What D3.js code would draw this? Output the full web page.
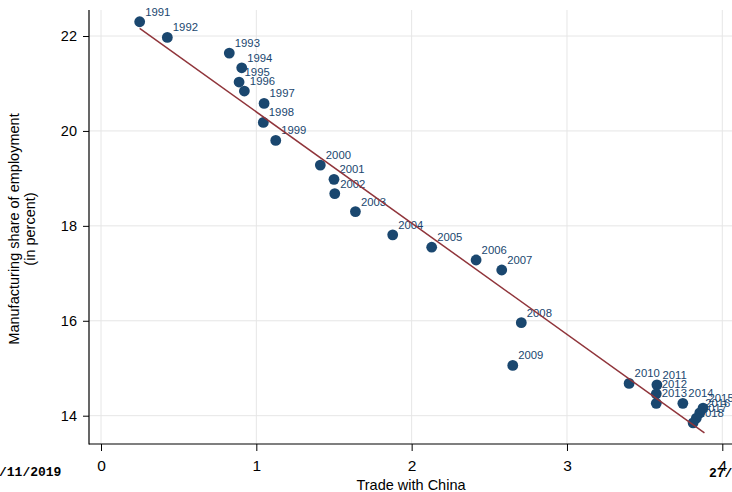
<!DOCTYPE html>
<html>
<head>
<meta charset="utf-8">
<script src="https://cdn.jsdelivr.net/npm/d3@7"></script>
<style>
  html, body { margin: 0; padding: 0; background: #fff; }
  svg { display: block; }
  text { font-family: "Liberation Sans", Arial, Helvetica, sans-serif; }
</style>
</head>
<body>
<svg id="chart" width="732" height="492"></svg>
<script>
// Years and values for the scatter
const years = [1991, 1992, 1993, 1994, 1995, 1996, 1997, 1998, 1999, 2000,
               2001, 2002, 2003, 2004, 2005, 2006, 2007, 2008, 2009, 2010,
               2011, 2012, 2013, 2014, 2015, 2016, 2017, 2018];
const tradeWithChina = [0.249, 0.427, 0.826, 0.906, 0.889, 0.923, 1.050, 1.045, 1.125, 1.412,
                        1.500, 1.505, 1.638, 1.878, 2.129, 2.415, 2.580, 2.706, 2.651, 3.400,
                        3.579, 3.575, 3.575, 3.746, 3.876, 3.855, 3.833, 3.812];
const mfgShare = [22.30, 21.97, 21.64, 21.33, 21.03, 20.84, 20.58, 20.18, 19.80, 19.28,
                  18.98, 18.68, 18.30, 17.81, 17.55, 17.28, 17.07, 15.96, 15.06, 14.68,
                  14.65, 14.46, 14.26, 14.26, 14.16, 14.06, 13.95, 13.85];

// Linear fit endpoints
const fitX = [0.249, 3.885];
const fitY = [22.16, 13.64];

// Axis ticks
const xTicks = [0, 1, 2, 3, 4];
const yTicks = [14, 16, 18, 20, 22];

const svg = d3.select("#chart");
const W = 732, H = 492;
const plot = { left: 89, right: 745, top: 10, bottom: 444 };

const x = d3.scaleLinear().domain([0, 4]).range([101, 722.3]);
const y = d3.scaleLinear().domain([14, 22]).range([415.7, 36]);

const navy = "#1a476f";
const maroon = "#90353b";
const grid = "#e6e6e6";

svg.append("rect").attr("width", W).attr("height", H).attr("fill", "#fff");

// grid lines
const g = svg.append("g");
g.selectAll("line.hg").data(yTicks).join("line")
  .attr("x1", plot.left).attr("x2", plot.right)
  .attr("y1", d => y(d)).attr("y2", d => y(d))
  .attr("stroke", grid).attr("stroke-width", 1);
g.selectAll("line.vg").data(xTicks).join("line")
  .attr("x1", d => x(d)).attr("x2", d => x(d))
  .attr("y1", plot.top).attr("y2", plot.bottom)
  .attr("stroke", grid).attr("stroke-width", 1);

// axes
const xAxis = svg.append("g").attr("transform", `translate(0,${plot.bottom})`)
  .call(d3.axisBottom(x).tickValues(xTicks).tickFormat(d3.format("d"))
    .tickSize(7).tickPadding(9).tickSizeOuter(0));
const yAxis = svg.append("g").attr("transform", `translate(${plot.left},0)`)
  .call(d3.axisLeft(y).tickValues(yTicks).tickFormat(d3.format("d"))
    .tickSize(6).tickPadding(6).tickSizeOuter(0));
[xAxis, yAxis].forEach(a => {
  a.select(".domain").remove();
  a.selectAll(".tick line").attr("stroke", "#000");
  a.selectAll(".tick text").attr("fill", "#000")
    .style("font-family", '"Liberation Sans", Arial, Helvetica, sans-serif');
});
xAxis.selectAll(".tick text").style("font-size", "15.5px");
yAxis.selectAll(".tick text").style("font-size", "14.5px");

svg.append("line").attr("x1", plot.left).attr("x2", plot.left)
  .attr("y1", plot.top).attr("y2", plot.bottom + 0.5)
  .attr("stroke", "#000").attr("stroke-width", 1.2);
svg.append("line").attr("x1", plot.left).attr("x2", plot.right)
  .attr("y1", plot.bottom).attr("y2", plot.bottom)
  .attr("stroke", "#000").attr("stroke-width", 1.2);

// axis titles
svg.append("text").attr("x", 411).attr("y", 490)
  .attr("text-anchor", "middle").attr("font-size", "14.5px").attr("fill", "#000")
  .text("Trade with China");
const yt = svg.append("text")
  .attr("transform", "translate(0,229) rotate(-90)")
  .attr("text-anchor", "middle").attr("font-size", "14.5px").attr("fill", "#000");
yt.append("tspan").attr("x", 0).attr("y", 19).text("Manufacturing share of employment");
yt.append("tspan").attr("x", 0).attr("y", 35).text("(in percent)");

// data
const pts = years.map((yr, i) => ({ yr, tx: tradeWithChina[i], ms: mfgShare[i] }));

svg.append("g").selectAll("text").data(pts).join("text")
  .attr("x", d => x(d.tx) + 5.5)
  .attr("y", d => y(d.ms) - 6)
  .attr("font-size", "11.3px").attr("fill", navy)
  .text(d => d.yr);

svg.append("g").selectAll("circle").data(pts).join("circle")
  .attr("cx", d => x(d.tx)).attr("cy", d => y(d.ms))
  .attr("r", 5.4).attr("fill", navy);

// fitted line
svg.append("path")
  .datum(fitX.map((v, i) => [v, fitY[i]]))
  .attr("d", d3.line().x(d => x(d[0])).y(d => y(d[1])))
  .attr("fill", "none").attr("stroke", maroon).attr("stroke-width", 1.5);

// date stamps at the page edges
svg.append("text").attr("x", -1).attr("y", 476)
  .style("font-family", '"Liberation Mono", "DejaVu Sans Mono", monospace')
  .attr("font-weight", "bold").attr("font-size", "13px").attr("fill", "#000")
  .text("/11/2019");
svg.append("text").attr("x", 709).attr("y", 477)
  .style("font-family", '"Liberation Mono", "DejaVu Sans Mono", monospace')
  .attr("font-weight", "bold").attr("font-size", "13px").attr("fill", "#000")
  .text("27/");
</script>
</body>
</html>
